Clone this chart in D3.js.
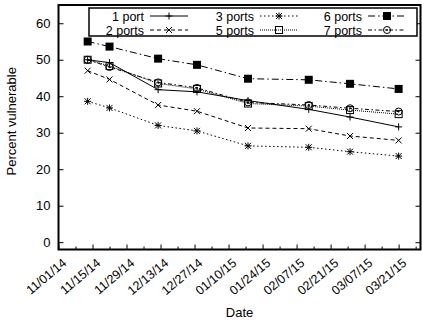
<!DOCTYPE html>
<html>
<head>
<meta charset="utf-8">
<script src="https://cdn.jsdelivr.net/npm/d3@7"></script>
<style>
  html, body { margin: 0; padding: 0; background: #fff; }
  svg { display: block; font-family: "Liberation Sans", Arial, sans-serif; }
</style>
</head>
<body>
<svg id="chart" width="422" height="324"></svg>
<script>
// Measurement dates (one scan per date)
const dates = ["2014-11-13", "2014-11-22", "2014-12-12", "2014-12-28",
               "2015-01-18", "2015-02-12", "2015-03-01", "2015-03-21"];

// Percent of hosts vulnerable, by number of open ports
const port1 = [50.0, 49.2, 41.8, 41.2, 38.8, 36.4, 34.3, 31.6];
const port2 = [47.0, 44.6, 37.6, 35.9, 31.3, 31.1, 29.1, 27.9];
const port3 = [38.6, 36.8, 32.0, 30.5, 26.4, 26.0, 24.8, 23.6];
const port5 = [50.0, 48.3, 43.5, 42.0, 38.0, 37.3, 36.2, 35.1];
const port6 = [55.0, 53.6, 50.3, 48.6, 44.8, 44.5, 43.4, 42.0];
const port7 = [50.0, 48.0, 43.8, 42.3, 38.3, 37.6, 36.7, 35.8];

const seriesNames = ["1 port", "2 ports", "3 ports", "5 ports", "6 ports", "7 ports"];

// Axis ticks
const yTicks = [0, 10, 20, 30, 40, 50, 60];
const xTickLabels = ["11/01/14", "11/15/14", "11/29/14", "12/13/14", "12/27/14", "01/10/15",
                     "01/24/15", "02/07/15", "02/21/15", "03/07/15", "03/21/15"];
const xStart = "2014-11-01", xEnd = "2015-03-30";

const parse = d3.utcParse("%Y-%m-%d");
const parseLabel = d3.utcParse("%m/%d/%y");

const series = [
  { name: seriesNames[0], values: port1, dash: null,        marker: "plus" },
  { name: seriesNames[1], values: port2, dash: "4,3",       marker: "cross" },
  { name: seriesNames[2], values: port3, dash: "1.5,2.5",   marker: "star" },
  { name: seriesNames[3], values: port5, dash: "1,1",       marker: "openSquare" },
  { name: seriesNames[4], values: port6, dash: "7,3,1.5,3", marker: "filledSquare" },
  { name: seriesNames[5], values: port7, dash: "4,2.5,1.5,2.5", marker: "dotCircle" }
];

const svg = d3.select("#chart");
const plotLeft = 58.5, plotRight = 420.5, plotTop = 5, plotBottom = 249.5;

const x = d3.scaleUtc().domain([parse(xStart), parse(xEnd)]).range([plotLeft, plotRight]);
const y = d3.scaleLinear().domain([-2, 65]).range([plotBottom, plotTop]);

// Y ticks, inward on both sides
const yAxisL = svg.append("g").attr("transform", `translate(${plotLeft},0)`)
  .call(d3.axisLeft(y).tickValues(yTicks).tickSize(-5).tickPadding(8).tickFormat(d3.format("d")));
const yAxisR = svg.append("g").attr("transform", `translate(${plotRight},0)`)
  .call(d3.axisRight(y).tickValues(yTicks).tickSize(-5).tickFormat(""));
[yAxisL, yAxisR].forEach(g => {
  g.select(".domain").remove();
  g.selectAll("line").attr("stroke", "#000").attr("stroke-width", 1);
});
yAxisL.selectAll("text").attr("font-size", 13).attr("fill", "#000")
  .attr("font-family", "Liberation Sans, Arial, sans-serif");

// X ticks: weekly minor, fortnightly labelled
const majorDates = xTickLabels.map(parseLabel);
const minorDates = majorDates.map(d => d3.utcDay.offset(d, 7)).filter(d => d <= x.domain()[1]);
const xMinor = svg.append("g").attr("transform", `translate(0,${plotBottom})`)
  .call(d3.axisBottom(x).tickValues(minorDates).tickSize(-3).tickFormat(""));
const xMajor = svg.append("g").attr("transform", `translate(0,${plotBottom})`)
  .call(d3.axisBottom(x).tickValues(majorDates).tickSize(-5).tickFormat(""));
[xMinor, xMajor].forEach(g => {
  g.select(".domain").remove();
  g.selectAll("line").attr("stroke", "#000").attr("stroke-width", 1);
});

// Rotated date labels
svg.append("g").selectAll("text").data(majorDates).join("text")
  .attr("transform", d => `translate(${x(d) + 3},${plotBottom + 8}) rotate(-40)`)
  .attr("text-anchor", "end")
  .attr("dy", "0.71em")
  .attr("font-size", 12.5)
  .text((d, i) => xTickLabels[i]);

// Plot frame
svg.append("rect")
  .attr("x", plotLeft).attr("y", plotTop)
  .attr("width", plotRight - plotLeft).attr("height", plotBottom - plotTop)
  .attr("fill", "none").attr("stroke", "#000").attr("stroke-width", 2);

// Axis titles
svg.append("text").attr("x", (plotLeft + plotRight) / 2).attr("y", 317)
  .attr("text-anchor", "middle").attr("font-size", 13).text("Date");
svg.append("text")
  .attr("transform", `translate(16,${(plotTop + plotBottom) / 2 - 6}) rotate(-90)`)
  .attr("text-anchor", "middle").attr("font-size", 13).text("Percent vulnerable");

// Point markers
function drawMarker(g, type) {
  const s = 3.5;
  if (type === "plus") {
    g.append("path").attr("d", `M${-s},0H${s}M0,${-s}V${s}`).attr("stroke", "#000").attr("stroke-width", 1);
  } else if (type === "cross") {
    g.append("path").attr("d", `M-3,-3L3,3M-3,3L3,-3`).attr("stroke", "#000").attr("stroke-width", 1);
  } else if (type === "star") {
    g.append("path").attr("d", `M${-s},0H${s}M0,${-s}V${s}M-3,-3L3,3M-3,3L3,-3`)
      .attr("stroke", "#000").attr("stroke-width", 1);
  } else if (type === "openSquare") {
    g.append("rect").attr("x", -3.5).attr("y", -3.5).attr("width", 7).attr("height", 7)
      .attr("fill", "none").attr("stroke", "#000").attr("stroke-width", 1);
  } else if (type === "filledSquare") {
    g.append("rect").attr("x", -4).attr("y", -4).attr("width", 8).attr("height", 8).attr("fill", "#000");
  } else if (type === "dotCircle") {
    g.append("circle").attr("r", 3.5).attr("fill", "none").attr("stroke", "#000").attr("stroke-width", 1);
    g.append("circle").attr("r", 1).attr("fill", "#000");
  }
}

const line = d3.line().x(d => x(d.date)).y(d => y(d.value));
const plot = svg.append("g");
series.forEach(s => {
  const pts = s.values.map((v, i) => ({ date: parse(dates[i]), value: v }));
  plot.append("path").datum(pts).attr("d", line)
    .attr("fill", "none").attr("stroke", "#000").attr("stroke-width", 1)
    .attr("stroke-dasharray", s.dash);
  pts.forEach(p => {
    const g = plot.append("g").attr("transform", `translate(${x(p.date)},${y(p.value)})`);
    drawMarker(g, s.marker);
  });
});

// Legend: three columns, two rows
const legend = svg.append("g");
legend.append("rect").attr("x", 89).attr("y", 8).attr("width", 328).attr("height", 28)
  .attr("fill", "#fff").attr("stroke", "#000").attr("stroke-width", 1.5);
const colRight = [144, 254, 362];
const rowY = [16, 30];
series.forEach((s, i) => {
  const col = Math.floor(i / 2), row = i % 2;
  const tx = colRight[col], ty = rowY[row];
  legend.append("text").attr("x", tx).attr("y", ty).attr("dy", "0.36em")
    .attr("text-anchor", "end").attr("font-size", 12.5).text(s.name);
  legend.append("line").attr("x1", tx + 6).attr("x2", tx + 44).attr("y1", ty).attr("y2", ty)
    .attr("stroke", "#000").attr("stroke-width", 1).attr("stroke-dasharray", s.dash);
  const g = legend.append("g").attr("transform", `translate(${tx + 25},${ty})`);
  drawMarker(g, s.marker);
});
</script>
</body>
</html>
